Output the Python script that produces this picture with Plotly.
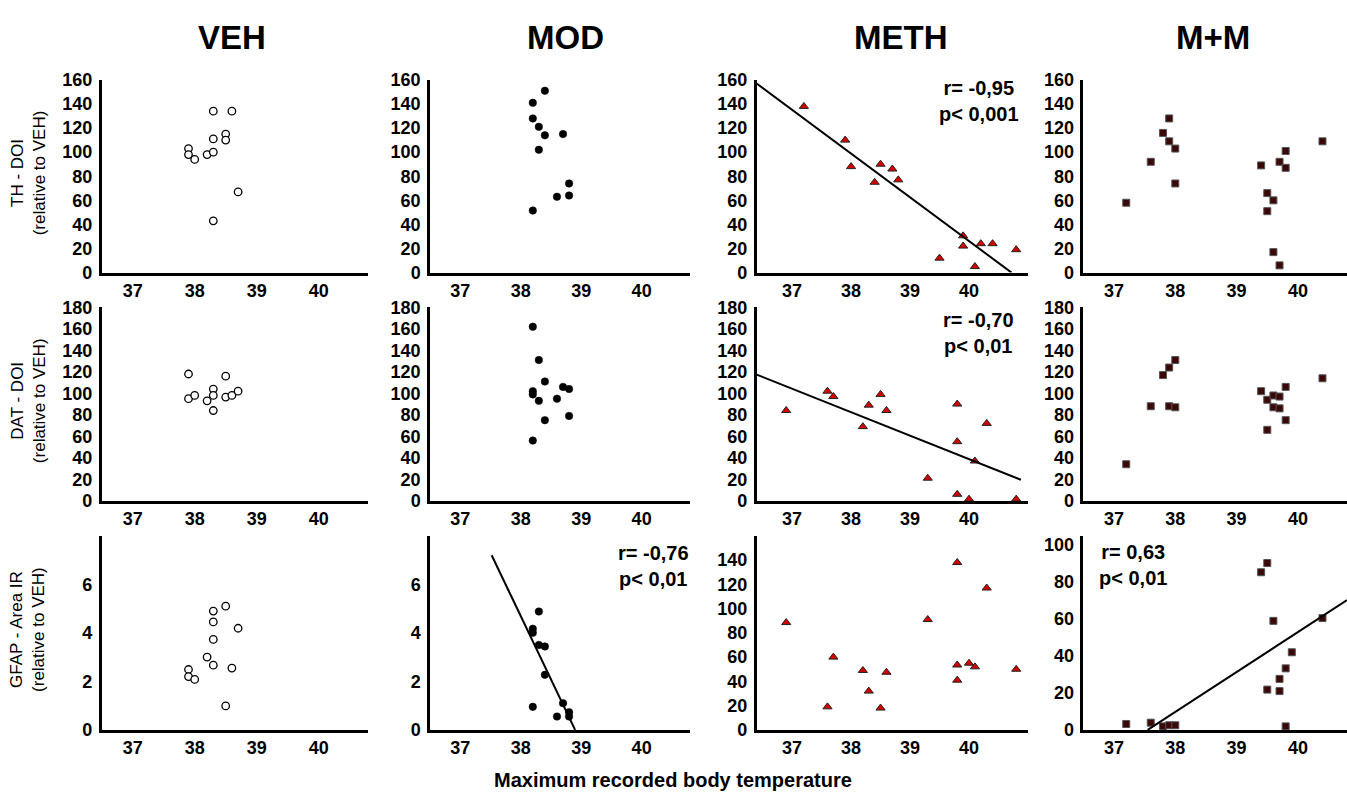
import plotly.graph_objects as go

# ---------------- data ----------------
groups = ["VEH", "MOD", "METH", "M+M"]
row_titles = ["TH - DOI<br>(relative to VEH)", "DAT - DOI<br>(relative to VEH)", "GFAP - Area IR<br>(relative to VEH)"]
x_title = "Maximum recorded body temperature"
x_ticks = [37, 38, 39, 40]

# Row 1: TH - DOI
veh_th_x = [38.3, 38.6, 38.5, 38.3, 38.5, 37.9, 37.9, 38.0, 38.2, 38.3, 38.7, 38.3]
veh_th_y = [134, 134, 115, 111, 110, 103, 98, 94, 98, 100, 67, 43]
mod_th_x = [38.4, 38.2, 38.2, 38.3, 38.4, 38.7, 38.3, 38.8, 38.8, 38.6, 38.2]
mod_th_y = [151, 141, 128, 121, 114, 115, 102, 74, 64, 63, 51.5]
meth_th_x = [37.2, 37.9, 38.0, 38.5, 38.4, 38.7, 38.8, 39.5, 39.9, 39.9, 40.2, 40.4, 40.1, 40.8]
meth_th_y = [138, 110, 88, 90, 75, 86, 77, 12, 30.5, 22, 24, 24, 5, 19]
mm_th_x = [37.2, 37.6, 37.8, 37.9, 37.9, 38.0, 38.0, 39.4, 39.5, 39.5, 39.6, 39.6, 39.7, 39.7, 39.8, 39.8, 40.4]
mm_th_y = [58, 92, 116, 128, 109, 103, 74, 89, 66, 51, 60, 17, 92, 6, 101, 87, 109]

# Row 2: DAT - DOI
veh_dat_x = [37.9, 37.9, 38.0, 38.2, 38.3, 38.3, 38.3, 38.5, 38.5, 38.6, 38.7]
veh_dat_y = [118, 95, 98, 93, 104, 98, 84, 116, 96.5, 98, 102]
mod_dat_x = [38.2, 38.3, 38.4, 38.7, 38.8, 38.2, 38.2, 38.3, 38.6, 38.4, 38.8, 38.2]
mod_dat_y = [162, 131, 111, 106, 104, 102, 99, 93, 95, 75, 79, 56]
meth_dat_x = [36.9, 37.6, 37.7, 38.2, 38.3, 38.5, 38.6, 39.3, 39.8, 39.8, 39.8, 40.0, 40.1, 40.3, 40.8]
meth_dat_y = [84, 102, 97, 69, 89, 99, 84, 21, 90, 55, 6, 1.5, 37, 72, 1.5]
mm_dat_x = [37.2, 37.6, 37.8, 37.9, 38.0, 37.9, 38.0, 39.4, 39.5, 39.5, 39.6, 39.6, 39.7, 39.7, 39.8, 39.8, 40.4]
mm_dat_y = [34, 88, 117, 124, 131, 88, 87, 102, 94, 66, 98, 87, 97, 86, 106, 75, 114]

# Row 3: GFAP - Area IR
veh_gfap_x = [38.5, 38.3, 38.3, 38.7, 38.3, 38.2, 38.3, 38.6, 37.9, 37.9, 38.0, 38.5]
veh_gfap_y = [5.1, 4.9, 4.45, 4.19, 3.73, 3.0, 2.67, 2.55, 2.49, 2.2, 2.08, 0.99]
mod_gfap_x = [38.3, 38.2, 38.2, 38.3, 38.4, 38.4, 38.2, 38.6, 38.7, 38.8, 38.8]
mod_gfap_y = [4.88, 4.17, 4.0, 3.5, 3.44, 2.27, 0.95, 0.55, 1.1, 0.73, 0.55]
meth_gfap_x = [36.9, 37.6, 37.7, 38.2, 38.3, 38.5, 38.6, 39.3, 39.8, 39.8, 39.8, 40.0, 40.1, 40.3, 40.8]
meth_gfap_y = [88.5, 19, 60, 49, 32, 18, 47.5, 91, 138, 53.5, 41, 55, 52, 117, 50]
mm_gfap_x = [37.2, 37.6, 37.8, 37.9, 38.0, 39.4, 39.5, 39.6, 39.9, 39.8, 39.7, 39.5, 39.7, 39.8, 40.4]
mm_gfap_y = [3.2, 3.9, 1.9, 2.5, 2.5, 85.3, 90.3, 59, 42, 33.3, 27.6, 21.8, 21, 1.9, 60.5]

# Regression lines (endpoints)
fit_meth_th_x = [36.4, 40.72]
fit_meth_th_y = [157, 0]
fit_meth_dat_x = [36.4, 40.88]
fit_meth_dat_y = [117.4, 19.5]
fit_mod_gfap_x = [37.52, 38.9]
fit_mod_gfap_y = [7.2, 0]
fit_mm_gfap_x = [37.55, 40.8]
fit_mm_gfap_y = [0, 70.2]

stats_meth_th = "r= -0,95<br>p< 0,001"
stats_meth_dat = "r= -0,70<br>p< 0,01"
stats_mod_gfap = "r= -0,76<br>p< 0,01"
stats_mm_gfap = "r= 0,63<br>p< 0,01"

# ---------------- layout geometry (pixels) ----------------
W, H = 1347, 802
FONT = "Liberation Sans, Arial, sans-serif"
col_px = [(101.7, 368.3), (430.0, 690.0), (756.7, 1028.0), (1083.3, 1347.0)]
col_range = [(36.5, 40.8), (36.5, 40.8), (36.4, 41.0), (36.5, 40.8)]
row_px = [(71.7, 269.3), (305.0, 503.3), (539.3, 738.3)]

y_ranges = [
    [(0, 160)] * 4,
    [(0, 180)] * 4,
    [(0, 8), (0, 8), (0, 160), (0, 105)],
]
y_tickvals = [
    [list(range(0, 161, 20))] * 4,
    [list(range(0, 181, 20))] * 4,
    [[0, 2, 4, 6], [0, 2, 4, 6], list(range(0, 141, 20)), list(range(0, 101, 20))],
]

styles = {
    "VEH": dict(symbol="circle", size=7.5, color="white", line=dict(color="black", width=1.3)),
    "MOD": dict(symbol="circle", size=7.5, color="black", line=dict(color="black", width=0.5)),
    "METH": dict(symbol="triangle-up", size=8, color="#d40000", line=dict(color="#222222", width=1)),
    "M+M": dict(symbol="square", size=7, color="#3a0808", line=dict(color="#555555", width=1)),
}

panels = [
    [(veh_th_x, veh_th_y), (mod_th_x, mod_th_y), (meth_th_x, meth_th_y), (mm_th_x, mm_th_y)],
    [(veh_dat_x, veh_dat_y), (mod_dat_x, mod_dat_y), (meth_dat_x, meth_dat_y), (mm_dat_x, mm_dat_y)],
    [(veh_gfap_x, veh_gfap_y), (mod_gfap_x, mod_gfap_y), (meth_gfap_x, meth_gfap_y), (mm_gfap_x, mm_gfap_y)],
]
fits = {
    (0, 2): (fit_meth_th_x, fit_meth_th_y),
    (1, 2): (fit_meth_dat_x, fit_meth_dat_y),
    (2, 1): (fit_mod_gfap_x, fit_mod_gfap_y),
    (2, 3): (fit_mm_gfap_x, fit_mm_gfap_y),
}
stats = {
    (0, 2): (stats_meth_th, 979, 93),
    (1, 2): (stats_meth_dat, 978, 331),
    (2, 1): (stats_mod_gfap, 653, 570),
    (2, 3): (stats_mm_gfap, 1133, 569),
}

fig = go.Figure()
layout = {}
for r in range(3):
    for c in range(4):
        idx = r * 4 + c + 1
        sfx = "" if idx == 1 else str(idx)
        xs, ys = panels[r][c]
        fig.add_trace(go.Scatter(x=xs, y=ys, mode="markers", marker=styles[groups[c]],
                                 xaxis="x" + sfx, yaxis="y" + sfx, showlegend=False,
                                 cliponaxis=False))
        if (r, c) in fits:
            fx, fy = fits[(r, c)]
            fig.add_trace(go.Scatter(x=fx, y=fy, mode="lines", line=dict(color="black", width=2),
                                     xaxis="x" + sfx, yaxis="y" + sfx, showlegend=False))
        x0, x1 = col_px[c]
        top, bot = row_px[r]
        axis_common = dict(showline=True, linecolor="black", linewidth=2.5, showgrid=False,
                           zeroline=False, ticks="",
                           tickfont=dict(family=FONT, size=18, color="black", weight="bold"))
        layout["xaxis" + sfx] = dict(axis_common, domain=[x0 / W, x1 / W], range=list(col_range[c]),
                                     tickvals=x_ticks, anchor="y" + sfx)
        layout["yaxis" + sfx] = dict(axis_common, domain=[1 - bot / H, 1 - top / H],
                                     range=list(y_ranges[r][c]), tickvals=y_tickvals[r][c],
                                     anchor="x" + sfx, ticklabelstandoff=3)

annotations = []
col_title_x = [232, 565, 901, 1213]
for c, g in enumerate(groups):
    annotations.append(dict(text=g, x=col_title_x[c] / W, y=1 - 28 / H, xref="paper", yref="paper",
                            showarrow=False, xanchor="center", yanchor="middle",
                            font=dict(family=FONT, size=33, color="black", weight="bold")))
for r, t in enumerate(row_titles):
    top, bot = row_px[r]
    annotations.append(dict(text=t, x=28 / W, y=1 - ((top + bot) / 2 - 3) / H, xref="paper", yref="paper",
                            showarrow=False, textangle=-90, xanchor="center", yanchor="middle",
                            font=dict(family=FONT, size=17, color="black")))
for (r, c), (txt, px, py) in stats.items():
    annotations.append(dict(text="<b>" + txt + "</b>", x=px / W, y=1 - py / H, xref="paper", yref="paper",
                            showarrow=False, xanchor="center", yanchor="middle", align="center",
                            font=dict(family=FONT, size=20, color="black")))
annotations.append(dict(text="<b>" + x_title + "</b>", x=673 / W, y=1 - 790 / H, xref="paper", yref="paper",
                        showarrow=False, xanchor="center", yanchor="middle",
                        font=dict(family=FONT, size=20, color="black")))

fig.update_layout(width=W, height=H, margin=dict(l=0, r=0, t=0, b=0),
                  plot_bgcolor="white", paper_bgcolor="white",
                  annotations=annotations, **layout)

fig.write_html("out.html", config={"displayModeBar": False},
               post_script="document.body.style.margin='0';")
